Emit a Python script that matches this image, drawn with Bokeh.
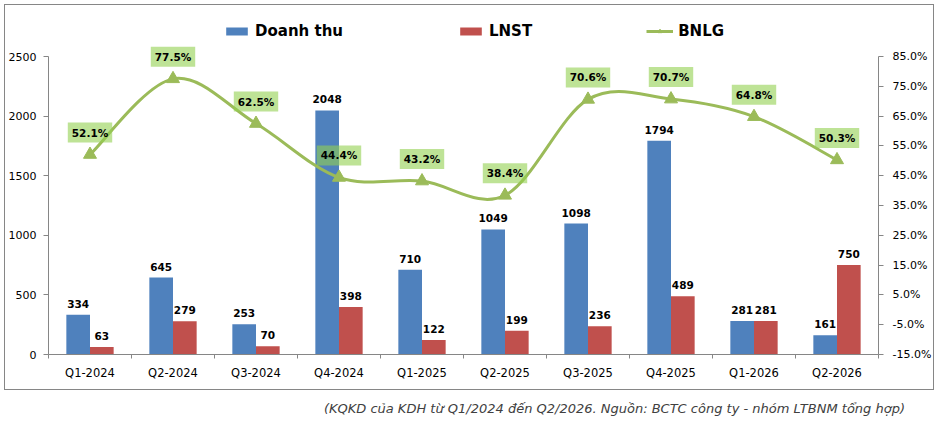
from bokeh.plotting import figure
from bokeh.layouts import column
from bokeh.models import (Range1d, LinearAxis, FixedTicker, Legend, LegendItem,
                          PrintfTickFormatter, Div)
from bokeh.core.properties import value
from bokeh.embed import file_html
from bokeh.resources import INLINE

# Số liệu KQKD (tỷ đồng) và biên lợi nhuận gộp (%)
quarters = ["Q1-2024", "Q2-2024", "Q3-2024", "Q4-2024", "Q1-2025",
            "Q2-2025", "Q3-2025", "Q4-2025", "Q1-2026", "Q2-2026"]
doanh_thu = [334, 645, 253, 2048, 710, 1049, 1098, 1794, 281, 161]
lnst = [63, 279, 70, 398, 122, 199, 236, 489, 281, 750]
bnlg = [52.1, 77.5, 62.5, 44.4, 43.2, 38.4, 70.6, 70.7, 64.8, 50.3]

left_ticks = [0, 500, 1000, 1500, 2000, 2500]
right_ticks = [-15, -5, 5, 15, 25, 35, 45, 55, 65, 75, 85]

BLUE = "#4F81BD"
RED = "#C0504D"
GREEN = "#9BBB59"
AXIS = "#868686"
FONT = "DejaVu Sans"

n = len(quarters)
xc = [i + 0.5 for i in range(n)]
bounds = list(range(n + 1))
bw = 0.285
x_dt = [x - bw / 2 for x in xc]
x_ln = [x + bw / 2 for x in xc]

# vùng vẽ cao hơn trục để chú thích và nhãn không bị cắt
axis_px = 298
frame_px = 336
top_left = 2500 * frame_px / axis_px
top_right = -15 + 100 * frame_px / axis_px

p = figure(width=930, height=386, output_backend="svg", toolbar_location=None,
           x_range=Range1d(0, n), y_range=Range1d(0, top_left),
           min_border_left=43, min_border_right=57, min_border_top=13, min_border_bottom=37,
           styles={"border": "1px solid #868686"}, margin=(4, 0, 0, 4))
p.outline_line_color = None
p.xgrid.grid_line_color = None
p.ygrid.grid_line_color = None
p.extra_y_ranges = {"pct": Range1d(-15, top_right)}

# trục
p.xaxis.ticker = FixedTicker(ticks=xc, minor_ticks=bounds)
p.xaxis.major_label_overrides = {x: q for x, q in zip(xc, quarters)}
p.xaxis.major_tick_out = 0
p.xaxis.major_tick_in = 0
p.xaxis.minor_tick_out = 4
p.xaxis.minor_tick_in = 0
p.xaxis.major_label_standoff = 7

p.yaxis.ticker = FixedTicker(ticks=left_ticks)
p.yaxis.bounds = (0, 2500)
p.yaxis.major_tick_out = 5
p.yaxis.major_tick_in = 0
p.yaxis.minor_tick_out = 0
p.yaxis.minor_tick_in = 0
p.yaxis.major_label_standoff = 7

right = LinearAxis(y_range_name="pct", ticker=FixedTicker(ticks=right_ticks),
                   formatter=PrintfTickFormatter(format="%.1f%%"), bounds=(-15, 85))
right.major_tick_out = 5
right.major_tick_in = 0
right.minor_tick_out = 0
right.minor_tick_in = 0
right.major_label_standoff = 9
p.add_layout(right, "right")

for ax in [p.xaxis[0], p.yaxis[0], right]:
    ax.axis_line_color = AXIS
    ax.major_tick_line_color = AXIS
    ax.minor_tick_line_color = AXIS
    ax.major_label_text_font = FONT
    ax.major_label_text_font_size = "11px"
    ax.major_label_text_color = "#000000"
p.xaxis.major_label_text_font_size = "11.5px"

# cột
r_dt = p.vbar(x=x_dt, top=doanh_thu, width=bw, fill_color=BLUE, line_color=None)
r_ln = p.vbar(x=x_ln, top=lnst, width=bw, fill_color=RED, line_color=None)

for xs, ys in [(x_dt, doanh_thu), (x_ln, lnst)]:
    p.text(x=xs, y=ys, text=[str(v) for v in ys], text_align="center",
           text_baseline="bottom", y_offset=-7, text_font=value(FONT),
           text_font_size="10.5px", text_font_style="bold", text_color="#000000")

# đường BNLG làm mượt (Bezier qua các điểm dữ liệu)
x0, y0, x1, y1, cx0, cy0, cx1, cy1 = [], [], [], [], [], [], [], []
for i in range(n - 1):
    a = max(i - 1, 0)
    b = min(i + 2, n - 1)
    x0.append(xc[i]); y0.append(bnlg[i])
    x1.append(xc[i + 1]); y1.append(bnlg[i + 1])
    cx0.append(xc[i] + (xc[i + 1] - xc[a]) / 6)
    cy0.append(bnlg[i] + (bnlg[i + 1] - bnlg[a]) / 6)
    cx1.append(xc[i + 1] - (xc[b] - xc[i]) / 6)
    cy1.append(bnlg[i + 1] - (bnlg[b] - bnlg[i]) / 6)
r_line = p.bezier(x0=x0, y0=y0, x1=x1, y1=y1, cx0=cx0, cy0=cy0, cx1=cx1, cy1=cy1,
                  y_range_name="pct", line_color=GREEN, line_width=3)
r_mk = p.scatter(x=xc, y=bnlg, marker="triangle", size=13, fill_color=GREEN,
                 line_color=GREEN, y_range_name="pct")

p.text(x=xc, y=bnlg, text=[f"{v:.1f}%" for v in bnlg], y_range_name="pct",
       text_align="center", text_baseline="middle", y_offset=-22, text_font=value(FONT),
       text_font_size="10.5px", text_font_style="bold", text_color="#000000",
       background_fill_color="#92D050", background_fill_alpha=0.6, padding=4)

legend = Legend(items=[LegendItem(label="Doanh thu", renderers=[r_dt]),
                       LegendItem(label="LNST", renderers=[r_ln]),
                       LegendItem(label="BNLG", renderers=[r_line, r_mk])],
                orientation="horizontal", location=(175, 314), padding=0, margin=0,
                spacing=114, glyph_width=27, glyph_height=10, label_standoff=5,
                label_text_font=FONT, label_text_font_size="15px",
                label_text_font_style="bold", label_text_color="#000000",
                border_line_color=None, background_fill_alpha=0)
p.add_layout(legend, "center")

note = Div(text="(KQKD của KDH từ Q1/2024 đến Q2/2026. Nguồn: BCTC công ty - nhóm LTBNM tổng hợp)",
           width=905, height=20, margin=(10, 0, 0, 0),
           styles={"font-family": FONT, "font-style": "italic", "font-size": "13px",
                   "color": "#404040", "text-align": "right", "width": "905px"})

open("out.html", "w").write(file_html(column(p, note), INLINE))
